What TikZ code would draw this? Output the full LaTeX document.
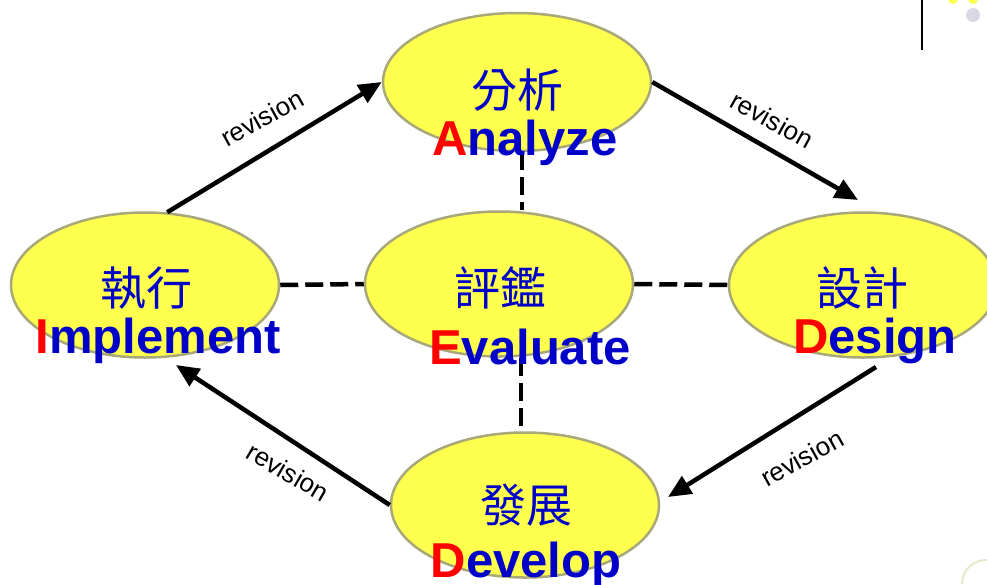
\documentclass[tikz,border=0pt]{standalone}
\usepackage{fontspec}
\setmainfont{Liberation Sans}
\newfontfamily\cjkfont{Noto Sans CJK TC}
\usetikzlibrary{shapes.geometric,arrows.meta}
\definecolor{stageyellow}{HTML}{FFFF4D}
\definecolor{stageedge}{HTML}{A8A878}
\definecolor{stageblue}{HTML}{0000C8}
\newcommand{\stagename}[2]{{\color{red}#1}{\color{stageblue}#2}}

\begin{document}
\begin{tikzpicture}
  [x=1pt,y=-1pt,
    stage/.style={
      ellipse,
      draw=stageedge, line width=2.5pt,
      fill=stageyellow,
      minimum width=268pt,
      minimum height=145pt,
      inner sep=0pt
    },
    cjklabel/.style={
      text=stageblue,
      font=\cjkfont\fontsize{46}{46}\selectfont
    },
    latinlabel/.style={
      anchor=base,
      inner sep=0pt,
      font=\bfseries\fontsize{49}{49}\selectfont
    },
    flow/.style={
      -{Triangle[length=23pt,width=20pt]},
      line width=4.5pt
    },
    link/.style={
      line width=4.5pt,
      dash pattern=on 18pt off 7pt
    },
    revision/.style={
      font=\fontsize{26}{26}\selectfont
    }
  ]
  \useasboundingbox (0,0) rectangle (987,584);
  \fill[white] (0,0) rectangle (987,584);

  % corner marks
  \draw[line width=1.5pt] (922,0) -- (922,50);
  \fill[blue!20!gray!25] (973,15) circle (7);
  \fill[stageyellow] (953,-1) circle (5);
  \fill[stageyellow] (973,-1) circle (5);
  \draw[stageyellow!50!gray!35, line width=2pt] (962,584) arc (180:290:24);

  \node[stage, minimum height=138pt] (analyze) at (517,82) {};
  \node[stage] (implement) at (145,285) {};
  \node[stage] (evaluate) at (499,284) {};
  \node[stage] (design) at (863,285) {};
  \node[stage] (develop) at (525,505) {};

  \coordinate (analyzedown) at (522,152);
  \coordinate (evaluateup) at (522,210);
  \coordinate (evaluatedown) at (521,358);
  \coordinate (developup) at (521,428);
  \coordinate (designin) at (858,200);
  \coordinate (designout) at (876,367);
  \coordinate (developin) at (668,497);
  \coordinate (implementin) at (176,365);

  \draw[link] (analyzedown) -- (evaluateup);
  \draw[link] (implement.east) -- (evaluate.west);
  \draw[link] (evaluate.east) -- (design.west);
  \draw[link] (evaluatedown) -- (developup);

  \draw[flow] (implement.73) -- (analyze.west);
  \draw[flow] (analyze.east) -- (designin);
  \draw[flow] (designout) -- (developin);
  \draw[flow] (develop.west) -- (implementin);

  \node[cjklabel] (analyzecjk) at (517,90) {分析};
  \node[cjklabel] (implementcjk) at (146,288) {執行};
  \node[cjklabel] (evaluatecjk) at (500,288) {評鑑};
  \node[cjklabel] (designcjk) at (862,288) {設計};
  \node[cjklabel] (developcjk) at (526,505) {發展};

  \node[latinlabel] (analyzetext) at (525,155) {\stagename{A}{nalyze}};
  \node[latinlabel] (implementtext) at (158,353) {\stagename{I}{mplement}};
  \node[latinlabel] (evaluatetext) at (530,364) {\stagename{E}{valuate}};
  \node[latinlabel] (designtext) at (875,353) {\stagename{D}{esign}};
  \node[latinlabel] (developtext) at (526,577) {\stagename{D}{evelop}};

  \node[revision, rotate=29] (revisionone) at (262,118) {revision};
  \node[revision, rotate=-29] (revisiontwo) at (772,120) {revision};
  \node[revision, rotate=29] (revisionthree) at (802,458) {revision};
  \node[revision, rotate=-30] (revisionfour) at (288,472) {revision};
\end{tikzpicture}
\end{document}
